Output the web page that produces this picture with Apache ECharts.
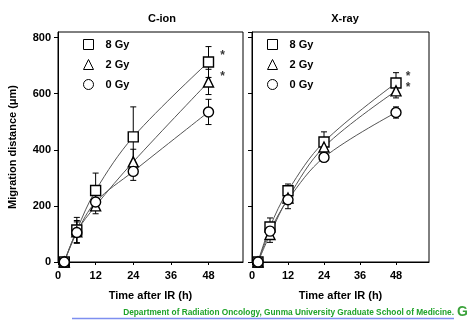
<!DOCTYPE html>
<html>
<head>
<meta charset="utf-8">
<script src="https://cdn.jsdelivr.net/npm/echarts@6/dist/echarts.min.js"></script>
<style>
html, body { margin: 0; padding: 0; background: #fff; }
#chart { width: 470px; height: 320px; }
</style>
</head>
<body>
<div id="chart"></div>
<script>
// 时间点 (h)
var hours = [2, 6, 12, 24, 48];
var doseNames = ['8 Gy', '2 Gy', '0 Gy'];
var doseIcons = ['rect', 'triangle', 'circle'];

// C-ion 迁移距离 (均值 / 标准差)
var cion8 = [0, 114, 255, 446, 713];
var cion8Sd = [0, 45, 62, 107, 55];
var cion2 = [0, 108, 200, 357, 642];
var cion2Sd = [0, 40, 28, 45, 45];
var cion0 = [0, 105, 214, 323, 535];
var cion0Sd = [0, 38, 25, 32, 45];

// X-ray 迁移距离 (均值 / 标准差)
var xray8 = [0, 125, 254, 428, 638];
var xray8Sd = [0, 32, 24, 36, 37];
var xray2 = [0, 98, 228, 410, 610];
var xray2Sd = [0, 28, 20, 25, 25];
var xray0 = [0, 110, 222, 373, 533];
var xray0Sd = [0, 25, 32, 15, 20];

// 显著性标记 * 的位置
var starsCion = [[52.5, 735], [52.5, 660]];
var starsXray = [[52, 662], [52, 622]];

var xTicks = [0, 12, 24, 36, 48];

var myChart = echarts.init(document.getElementById('chart'));

var font = 'Liberation Sans, Arial, sans-serif';

function pairs(means) {
    return hours.map(function (h, i) { return [h, means[i]]; });
}

function errData(means, sds) {
    return hours.map(function (h, i) { return [h, means[i], sds[i]]; });
}

//误差线
function errSeries(means, sds, gi) {
    return {
        type: 'custom',
        xAxisIndex: gi,
        yAxisIndex: gi,
        z: 1,
        silent: true,
        data: errData(means, sds),
        renderItem: function (params, api) {
            var x = api.value(0), m = api.value(1), s = api.value(2);
            if (!s) return;
            var top = api.coord([x, m + s]);
            var bot = api.coord([x, m - s]);
            var w = 3;
            return {
                type: 'group',
                children: [
                    { type: 'line', shape: { x1: top[0], y1: top[1], x2: bot[0], y2: bot[1] }, style: { stroke: '#000', lineWidth: 1 } },
                    { type: 'line', shape: { x1: top[0] - w, y1: top[1], x2: top[0] + w, y2: top[1] }, style: { stroke: '#000', lineWidth: 1 } },
                    { type: 'line', shape: { x1: bot[0] - w, y1: bot[1], x2: bot[0] + w, y2: bot[1] }, style: { stroke: '#000', lineWidth: 1 } }
                ]
            };
        }
    };
}

function lineSeries(name, icon, means, gi) {
    return {
        name: name,
        type: 'line',
        xAxisIndex: gi,
        yAxisIndex: gi,
        z: 3,
        smooth: 0.35,
        data: pairs(means),
        symbol: icon,
        symbolSize: 10,
        lineStyle: { color: '#555', width: 1 },
        itemStyle: { color: '#fff', borderColor: '#000', borderWidth: 1.4 }
    };
}

function starSeries(pts, gi) {
    return {
        type: 'scatter',
        xAxisIndex: gi,
        yAxisIndex: gi,
        symbolSize: 0,
        silent: true,
        data: pts,
        label: {
            show: true, position: 'inside', formatter: '*',
            color: '#000', fontSize: 12, fontWeight: 'bold', fontFamily: font
        }
    };
}

function xAxisOpt(gi) {
    return {
        type: 'value', gridIndex: gi, min: 0, max: 59, interval: 12,
        axisLine: { lineStyle: { color: '#000', width: 1 } },
        axisTick: { show: true, length: 3, lineStyle: { color: '#000' } },
        splitLine: { show: false },
        axisLabel: {
            color: '#000', fontSize: 11, fontWeight: 'bold', fontFamily: font, margin: 8,
            showMaxLabel: false,
            formatter: function (v) { return xTicks.indexOf(v) >= 0 ? v : ''; }
        },
        name: 'Time after IR (h)',
        nameLocation: 'middle', nameGap: 28,
        nameTextStyle: { color: '#000', fontSize: 11, fontWeight: 'bold', fontFamily: font }
    };
}

function yAxisOpt(gi, labels) {
    return {
        type: 'value', gridIndex: gi, min: 0, max: 820, interval: 200,
        axisLine: { show: true, lineStyle: { color: '#000', width: 1 } },
        axisTick: { show: true, length: 4, lineStyle: { color: '#000' } },
        splitLine: { show: false },
        axisLabel: { show: labels, color: '#000', fontSize: 11, fontWeight: 'bold', fontFamily: font, margin: 7 },
        name: labels ? 'Migration distance (\u03bcm)' : '',
        nameLocation: 'middle', nameGap: 40,
        nameTextStyle: { color: '#000', fontSize: 11, fontWeight: 'bold', fontFamily: font }
    };
}

function legendOpt(left) {
    return {
        orient: 'vertical', left: left, top: 34,
        itemWidth: 10, itemHeight: 10, itemGap: 9,
        selectedMode: false,
        data: doseNames.map(function (n, i) {
            return { name: n, icon: doseIcons[i] };
        }),
        itemStyle: { color: '#fff', borderColor: '#000', borderWidth: 1 },
        textStyle: { color: '#000', fontSize: 11, fontWeight: 'bold', fontFamily: font, padding: [0, 0, 3, 7] }
    };
}

var option = {
    animation: false,
    backgroundColor: '#fff',
    title: [
        { text: 'C-ion', left: 157, top: 8, textAlign: 'center', textStyle: { fontSize: 11, fontWeight: 'bold', fontFamily: font, color: '#000' } },
        { text: 'X-ray', left: 340, top: 8, textAlign: 'center', textStyle: { fontSize: 11, fontWeight: 'bold', fontFamily: font, color: '#000' } }
    ],
    grid: [
        { left: 58, top: 32, width: 185, height: 230, show: true, borderColor: '#000', borderWidth: 1 },
        { left: 252, top: 32, width: 177, height: 230, show: true, borderColor: '#000', borderWidth: 1 }
    ],
    legend: [legendOpt(78), legendOpt(262)],
    xAxis: [xAxisOpt(0), xAxisOpt(1)],
    yAxis: [yAxisOpt(0, true), yAxisOpt(1, false)],
    graphic: [
        {
            type: 'text', right: 16, top: 309,
            style: {
                text: 'Department of Radiation Oncology, Gunma University Graduate School of Medicine.',
                fill: '#1fa32a', fontSize: 8.3, fontWeight: 'bold', fontFamily: font
            }
        },
        {
            type: 'line', shape: { x1: 72, y1: 318.5, x2: 454, y2: 318.5 },
            style: { stroke: '#7e8ff0', lineWidth: 1.5 }
        },
        {
            type: 'text', left: 457, top: 305,
            style: { text: 'G', fill: '#3aa23a', fontSize: 14, fontWeight: 'bold', fontFamily: font }
        }
    ],
    series: [
        errSeries(cion8, cion8Sd, 0),
        errSeries(cion2, cion2Sd, 0),
        errSeries(cion0, cion0Sd, 0),
        lineSeries('8 Gy', 'rect', cion8, 0),
        lineSeries('2 Gy', 'triangle', cion2, 0),
        lineSeries('0 Gy', 'circle', cion0, 0),
        starSeries(starsCion, 0),
        errSeries(xray8, xray8Sd, 1),
        errSeries(xray2, xray2Sd, 1),
        errSeries(xray0, xray0Sd, 1),
        lineSeries('8 Gy', 'rect', xray8, 1),
        lineSeries('2 Gy', 'triangle', xray2, 1),
        lineSeries('0 Gy', 'circle', xray0, 1),
        starSeries(starsXray, 1)
    ]
};

myChart.setOption(option);
</script>
</body>
</html>
